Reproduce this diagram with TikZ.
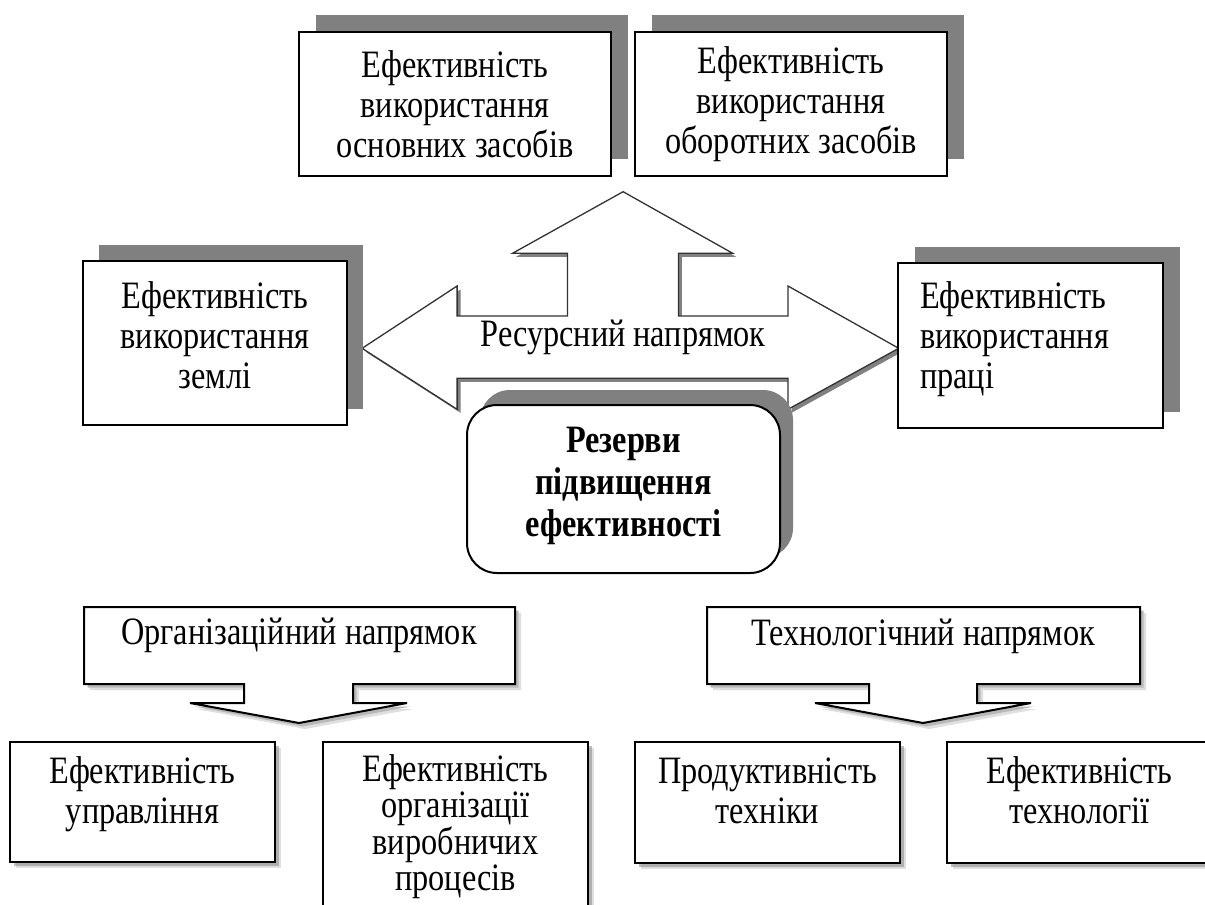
\documentclass[tikz,border=0pt]{standalone}
\usepackage{graphicx}
\usepackage{fontspec}
\setmainfont{Liberation Serif}
\usetikzlibrary{shadows}
\definecolor{shd}{HTML}{808080}
\newcommand{\sy}[1]{\scalebox{1}[1.2]{#1}}
\newcommand{\respath}{(623.1,191.7) -- (732.7,253.3) -- (678.4,253.3) -- (678.4,316) -- (788,316) -- (788,286) -- (898.7,348.3) -- (788,409.3) -- (788,378.3) -- (457.1,378.3) -- (457.1,409.3) -- (362.1,348.3) -- (457.1,286) -- (457.1,316) -- (567.4,316) -- (567.4,253.3) -- (512.5,253.3) -- cycle}
\newcommand{\orgpath}{(84,607) -- (515,607) -- (515,684) -- (353,684) -- (353,703) -- (407,703) -- (299,723) -- (190,703) -- (244,703) -- (244,684) -- (84,684) -- cycle}
\newcommand{\techpath}{(707,607) -- (1140,607) -- (1140,684) -- (977,684) -- (977,703) -- (1031,703) -- (923,723) -- (815,703) -- (869,703) -- (869,684) -- (707,684) -- cycle}
\begin{document}
\begin{tikzpicture}[x=1pt,y=-1pt,
  txt/.style={font=\fontsize{32.3}{40}\selectfont,inner sep=0pt},
  box/.style={txt,draw=black,line width=2pt,fill=white,inner sep=0pt,align=center},
  hardshadow/.style 2 args={drop shadow={shadow xshift=#1pt,shadow yshift=#2pt,fill=shd,opacity=1}},
  softshadow/.style={drop shadow={shadow xshift=6pt,shadow yshift=-6pt,fill=gray,opacity=.25},
                     drop shadow={shadow xshift=3.5pt,shadow yshift=-3.5pt,fill=gray,opacity=.5}},
  arrowline/.style={draw=black!80,line width=1.3pt,fill=white,line join=miter},
  calloutline/.style={draw=black,line width=2pt,fill=white,line join=miter}
]
\useasboundingbox (0,0) rectangle (1205,905);
\clip (0,0) rectangle (1205,905);
\fill[white] (0,0) rectangle (1205,905);

% resource arrow (left-right-up)
\begin{scope}[shift={(3.5,3.5)}]
  \fill[shd] \respath;
\end{scope}
\path[arrowline] \respath;
\node[txt,anchor=base] (res) at (623,346) {\sy{Ресурсний напрямок}};

% top boxes
\node[box,hardshadow={17}{17},minimum width=312pt,minimum height=144pt] (tb1) at (455,104)
  {\sy{Ефективність}\\\sy{використання}\\\sy{основних засобів}};
\node[box,hardshadow={17}{17},minimum width=312pt,minimum height=144pt] (tb2) at (791,104)
  {\sy{Ефективність}\\\sy{використання}\\\sy{оборотних засобів}};

% side boxes
\node[box,hardshadow={16}{16},minimum width=264pt,minimum height=164pt,text depth=16pt] (lb) at (215,343)
  {\sy{Ефективність}\\\sy{використання}\\\sy{землі}};
\node[box,hardshadow={17}{16},minimum width=265pt,minimum height=165pt] (rb) at (1030.5,345.5) {};
\node[txt,align=left,anchor=north west] (rbt) at (920,281)
  {\sy{Ефективність}\\\sy{використання}\\\sy{праці}};

% central rounded box
\node[box,hardshadow={13}{15},rounded corners=30pt,minimum width=313pt,minimum height=168pt,
      text depth=14pt,font=\fontsize{32.3}{42}\selectfont\bfseries] (cb) at (623.5,489)
  {\sy{Резерви}\\\sy{підвищення}\\\sy{ефективності}};

% callouts
\begin{scope}[shift={(6,6)}]
  \fill[gray!25] \orgpath;
  \fill[gray!25] \techpath;
\end{scope}
\begin{scope}[shift={(3.5,3.5)}]
  \fill[gray!55] \orgpath;
  \fill[gray!55] \techpath;
\end{scope}
\path[calloutline] \orgpath;
\path[calloutline] \techpath;
\node[txt,anchor=base] (org) at (299,644) {\sy{Організаційний напрямок}};
\node[txt,anchor=base] (tech) at (923,645) {\sy{Технологічний напрямок}};

% bottom boxes
\node[box,softshadow,minimum width=265pt,minimum height=120pt,text depth=24pt] (bl1) at (142.5,802)
  {\sy{Ефективність}\\\sy{управління}};
\node[box,softshadow,minimum width=265pt,minimum height=182pt,text depth=21pt,
      font=\fontsize{32.3}{36.5}\selectfont] (bl2) at (455.5,833)
  {\sy{Ефективність}\\\sy{організації}\\\sy{виробничих}\\\sy{процесів}};
\node[box,softshadow,minimum width=265pt,minimum height=121pt,text depth=24pt] (br1) at (767.5,802.5)
  {\sy{Продуктивність}\\\sy{техніки}};
\node[box,softshadow,minimum width=265pt,minimum height=121pt,text depth=24pt] (br2) at (1079.5,802.5)
  {\sy{Ефективність}\\\sy{технології}};
\end{tikzpicture}
\end{document}
